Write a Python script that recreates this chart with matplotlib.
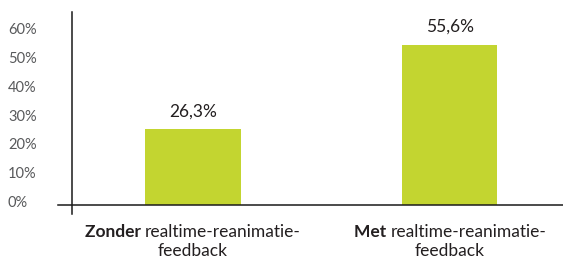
import matplotlib
matplotlib.use("Agg")
import matplotlib.pyplot as plt
from matplotlib.transforms import blended_transform_factory, offset_copy

plt.rcParams['font.family'] = ['Lato', 'DejaVu Sans']

# data
categorieen_vet = ['Zonder', 'Met']
categorieen_rest = ['realtime-reanimatie-', 'realtime-reanimatie-']
categorieen_regel2 = ['feedback', 'feedback']
waarden = [26.3, 55.6]
waarde_labels = ['26,3%', '55,6%']
yticks = [0, 10, 20, 30, 40, 50, 60]
ytick_labels = ['0%', '10%', '20%', '30%', '40%', '50%', '60%']

groen = '#c3d530'
tekst = '#231f20'

W, H = 563, 262
fig = plt.figure(figsize=(W / 100, H / 100), dpi=100)
# assen: y-as op x=72px, nullijn op y=205px, bovenkant y=12px
ax = fig.add_axes([72 / W, (H - 205) / H, (W - 72) / W, (205 - 12) / H])
ax.set_xlim(-0.471, 1.44)
ax.set_ylim(0, 67)
for s in ax.spines.values():
    s.set_visible(False)
ax.set_xticks([])
ax.set_yticks([])

x = list(range(len(waarden)))
bars = ax.bar(x, waarden, width=0.37, color=groen, zorder=2)

# assenlijnen
ax.plot([-14 / 491, 1], [0, 0], transform=ax.transAxes, color='#1a1a1a', lw=1.1, clip_on=False)
ax.plot([0, 0], [-9 / 193, 1], transform=ax.transAxes, color='#1a1a1a', lw=1.1, clip_on=False)

# y-as labels, links uitgelijnd
tr = blended_transform_factory(fig.transFigure, ax.transData)
tr = offset_copy(tr, fig=fig, y=2, units='dots')
for v, lab in zip(yticks, ytick_labels):
    ax.text(8 / W, v, lab, transform=tr, ha='left', va='center',
            fontsize=10.5, color='#58595b')

# waardelabels boven de staven
for b, lab in zip(bars, waarde_labels):
    ax.annotate(lab, (b.get_x() + b.get_width() / 2, b.get_height()),
                xytext=(0, 7), textcoords='offset points', ha='center', va='bottom',
                fontsize=12.5, color=tekst)

# categorielabels met vet eerste woord
fig.canvas.draw()
r = fig.canvas.get_renderer()
xt = blended_transform_factory(ax.transData, fig.transFigure)
fs = 12.5
for xi, vet, rest, r2 in zip(x, categorieen_vet, categorieen_rest, categorieen_regel2):
    t1 = ax.text(xi, 1 - 232 / H, vet + ' ', transform=xt, ha='left', va='center',
                 fontsize=fs, fontweight='bold', color=tekst)
    t2 = ax.text(xi, 1 - 232 / H, rest, transform=xt, ha='left', va='center',
                 fontsize=fs, color=tekst)
    w1 = t1.get_window_extent(r).width
    w2 = t2.get_window_extent(r).width
    cx = ax.transData.transform((xi, 0))[0]
    start = cx - (w1 + w2) / 2
    t1.set_transform(fig.transFigure)
    t2.set_transform(fig.transFigure)
    t1.set_position((start / W, 1 - 232 / H))
    t2.set_position(((start + w1) / W, 1 - 232 / H))
    ax.text(xi, 1 - 251 / H, r2, transform=xt, ha='center', va='center',
            fontsize=fs, color=tekst)

fig.savefig('out.png', dpi=100)
